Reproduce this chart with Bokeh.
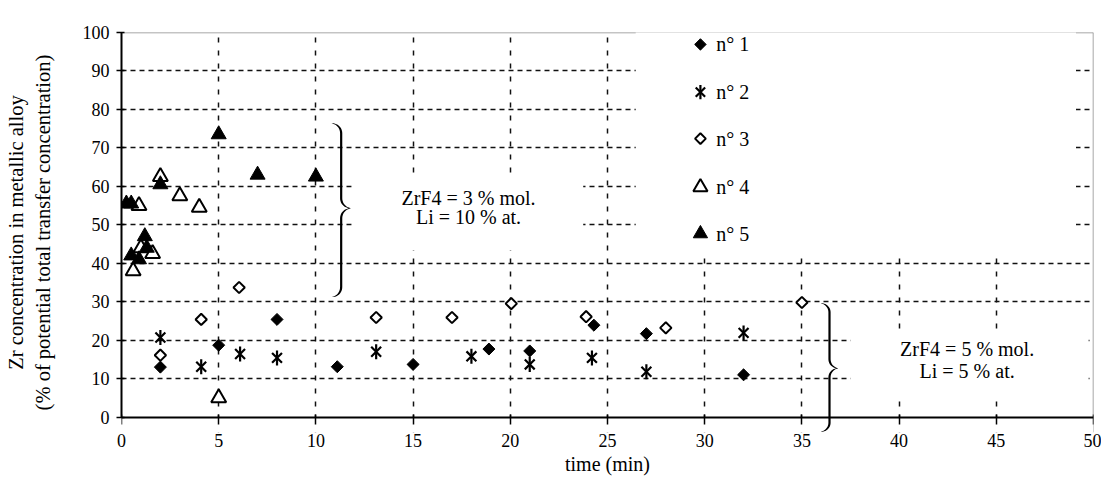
import numpy as np
from bokeh.plotting import figure
from bokeh.models import (FixedTicker, Label, BoxAnnotation, PolyAnnotation, Span, LinearAxis)
from bokeh.embed import file_html
from bokeh.resources import INLINE

FONT = "Liberation Serif"

# ---- data ----
s1_x = [2, 5, 8, 11.1, 15, 18.9, 21, 24.3, 27, 32]
s1_y = [13, 18.7, 25.4, 13.1, 13.7, 17.7, 17.2, 23.9, 21.7, 11]
s2_x = [2, 4.1, 6.1, 8, 13.1, 18, 21, 24.2, 27, 32]
s2_y = [20.7, 13.1, 16.4, 15.4, 17, 15.8, 13.7, 15.4, 11.8, 21.9]
s3_x = [2, 4.1, 6.05, 13.1, 17, 20.05, 23.9, 28, 35]
s3_y = [16.1, 25.4, 33.7, 25.9, 25.9, 29.5, 26.1, 23.2, 29.8]
s4_x = [0.6, 0.9, 1.0, 1.6, 2.0, 3.0, 4.0, 5.0]
s4_y = [38, 55, 44, 42.5, 62.5, 57.5, 54.5, 5]
s5_x = [0.25, 0.5, 0.5, 0.9, 1.2, 1.3, 2.0, 5.0, 7.0, 10.0]
s5_y = [55.5, 55.5, 42, 41, 47, 44, 60.5, 73.5, 63, 62.5]

series_labels = ["n° 1", "n° 2", "n° 3", "n° 4", "n° 5"]
x_ticks = list(range(0, 51, 5))
y_ticks = list(range(0, 101, 10))
x_label = "time (min)"
y_label = "Zr concentration in metallic alloy\n(% of potential total transfer concentration)"

note1 = ["ZrF4 = 3 % mol.", "Li = 10 % at."]
note1_x, note1_y = 17.85, [57.1, 52.0]
note2 = ["ZrF4 = 5 % mol.", "Li = 5 % at."]
note2_x, note2_y = 43.5, [17.6, 12.1]

# legend placement (data units): marker column, label column, row positions
legend_marker_x = 29.78
legend_text_x = 30.6
legend_rows_y = [96.9, 84.5, 72.4, 59.8, 47.7]

# white boxes hiding grid behind legend and notes (left, right, bottom, top)
legend_box = (26.45, 49.1, 41.4, 103)
note1_box = (11.85, 23.75, 43.4, 63.4)
note2_box = (37.5, 49.75, 4.4, 22.6)

# braces: (x of stem, y of tip, y bottom, y top, radius px)
brace1 = (11.3, 54.3, 31.2, 76.4, 10)
brace2 = (36.42, 12.7, -3.8, 29.6, 9)

FW = 972
PX_PER_100 = 385          # frame pixels for y from 0 to 100
X0, X1, Y0, Y1 = 0, 50, 0, 100
YB = -4.0                 # frame extends a little below the axis (room for the brace)
FH = round(PX_PER_100 * (Y1 - YB) / (Y1 - Y0))
kx = FW / (X1 - X0)
ky = FH / (Y1 - YB)

p = figure(frame_width=FW, frame_height=FH, x_range=(X0, X1), y_range=(YB, Y1),
           output_backend="svg", toolbar_location=None,
           min_border_left=121, min_border_top=32, min_border_right=8,
           min_border_bottom=20, background_fill_color="white",
           border_fill_color="white")
p.outline_line_color = None

# y axis
p.yaxis.ticker = FixedTicker(ticks=y_ticks)
p.yaxis.bounds = (Y0, Y1)
p.yaxis.axis_line_color = "black"
p.yaxis.axis_line_width = 2
p.yaxis.major_tick_line_color = "black"
p.yaxis.major_tick_line_width = 1.5
p.yaxis.minor_tick_line_color = None
p.yaxis.major_tick_out = 5
p.yaxis.major_tick_in = 3
p.yaxis.major_label_standoff = 7
p.yaxis.major_label_text_font = FONT
p.yaxis.major_label_text_font_size = "18px"
p.yaxis.major_label_text_color = "black"
p.yaxis.axis_label = y_label
p.yaxis.axis_label_text_font = FONT
p.yaxis.axis_label_text_font_style = "normal"
p.yaxis.axis_label_text_color = "black"
p.yaxis.axis_label_text_font_size = "20.5px"
p.yaxis.axis_label_standoff = 26

# x axis: labels at the panel, line and ticks drawn at y = 0
p.xaxis.ticker = FixedTicker(ticks=x_ticks)
p.xaxis.axis_line_color = None
p.xaxis.major_tick_line_color = None
p.xaxis.minor_tick_line_color = None
p.xaxis.major_tick_out = 0
p.xaxis.major_tick_in = 0
p.xaxis.major_label_standoff = 1
p.xaxis.major_label_text_font = FONT
p.xaxis.major_label_text_font_size = "18px"
p.xaxis.major_label_text_color = "black"
p.xaxis.axis_label = x_label
p.xaxis.axis_label_text_font = FONT
p.xaxis.axis_label_text_font_style = "normal"
p.xaxis.axis_label_text_color = "black"
p.xaxis.axis_label_text_font_size = "20px"
p.xaxis.axis_label_standoff = 3

x_line_axis = LinearAxis(ticker=FixedTicker(ticks=x_ticks), fixed_location=Y0,
                         axis_line_color="black", axis_line_width=2,
                         major_tick_line_color="black", major_tick_line_width=1.5,
                         minor_tick_line_color=None, major_tick_out=7, major_tick_in=3,
                         major_label_overrides={t: "" for t in x_ticks},
                         major_label_text_font_size="1px")
p.add_layout(x_line_axis, "below")

# grid
p.xgrid.ticker = FixedTicker(ticks=x_ticks[1:-1])
p.ygrid.ticker = FixedTicker(ticks=y_ticks[1:-1])
p.xgrid.grid_line_color = "#111111"
p.ygrid.grid_line_color = "#111111"
p.xgrid.grid_line_width = 1.5
p.ygrid.grid_line_width = 1.5
p.xgrid.grid_line_dash = "5 8"
p.ygrid.grid_line_dash = "5 4"

# frame top/right borders (grey)
p.add_layout(Span(location=Y1, dimension="width", line_color="#8a8a8a", line_width=1.5,
                  level="underlay"))
p.add_layout(Span(location=X1, dimension="height", line_color="#8a8a8a", line_width=1.5,
                  level="underlay"))
# white strip below the x axis (frame area under y=0)
p.add_layout(BoxAnnotation(top=Y0, fill_color="white", fill_alpha=1.0, line_color=None,
                           level="underlay"))

# white boxes (under the glyphs, over the grid)
for (l, r, b, t) in (legend_box, note1_box, note2_box):
    p.add_layout(BoxAnnotation(left=l, right=r, bottom=b, top=t, fill_color="white",
                               fill_alpha=1.0, line_color=None, level="underlay"))

# series styles
def draw_series(xs, ys, kind, scale=1.0):
    if kind == 1:
        p.scatter(xs, ys, marker="square", angle=np.pi / 4, size=8.5 * scale,
                  fill_color="black", line_color="black", line_width=1)
    elif kind == 2:
        p.scatter(xs, ys, marker="x", size=14 * scale, line_color="black", line_width=2.2)
        p.scatter(xs, ys, marker="dash", angle=np.pi / 2, size=15 * scale,
                  line_color="black", line_width=2.2)
    elif kind == 3:
        p.scatter(xs, ys, marker="square", angle=np.pi / 4, size=8 * scale,
                  fill_color="white", line_color="black", line_width=2)
    elif kind == 4:
        p.scatter(xs, ys, marker="triangle", size=15 * scale, fill_color="white",
                  line_color="black", line_width=2)
    else:
        p.scatter(xs, ys, marker="triangle", size=15 * scale, fill_color="black",
                  line_color="black", line_width=1)

series = [(s1_x, s1_y), (s2_x, s2_y), (s3_x, s3_y), (s4_x, s4_y), (s5_x, s5_y)]
for k, (xs, ys) in enumerate(series, start=1):
    draw_series(xs, ys, k)

# braces
def brace_poly(spec, t_px=2.2, n=12):
    xm, yc, y0, y1, r = spec
    um, vc, v0, v1 = xm * kx, yc * ky, y0 * ky, y1 * ky
    pts = []
    def arc(cu, cv, a0, a1):
        for a in np.linspace(np.radians(a0), np.radians(a1), n):
            pts.append((cu + r * np.cos(a), cv + r * np.sin(a)))
    arc(um - r, v1 - r, 90, 0)
    arc(um + r, vc + r, 180, 270)
    arc(um + r, vc - r, 90, 180)
    arc(um - r, v0 + r, 0, -90)
    left = [((u - t_px / 2) / kx, v / ky) for u, v in pts]
    right = [((u + t_px / 2) / kx, v / ky) for u, v in pts][::-1]
    poly = left + right
    return [q[0] for q in poly], [q[1] for q in poly]

for spec in (brace1, brace2):
    bx, by = brace_poly(spec)
    p.add_layout(PolyAnnotation(xs=bx, ys=by, fill_color="black", fill_alpha=1,
                                line_color=None))

# notes
for texts, nx, nys in ((note1, note1_x, note1_y), (note2, note2_x, note2_y)):
    for txt, ny in zip(texts, nys):
        p.add_layout(Label(x=nx, y=ny, text=txt, text_align="center", text_baseline="middle",
                           text_font=FONT, text_font_size="20px", text_color="black"))

# legend (drawn by hand so that the marker shapes match the plot)
for k, (lab, ly) in enumerate(zip(series_labels, legend_rows_y), start=1):
    draw_series([legend_marker_x], [ly], k, scale=0.95)
    p.add_layout(Label(x=legend_text_x, y=ly, text=lab, text_align="left",
                       text_baseline="middle", text_font=FONT, text_font_size="20px",
                       text_color="black"))

open("out.html", "w").write(file_html(p, INLINE))
